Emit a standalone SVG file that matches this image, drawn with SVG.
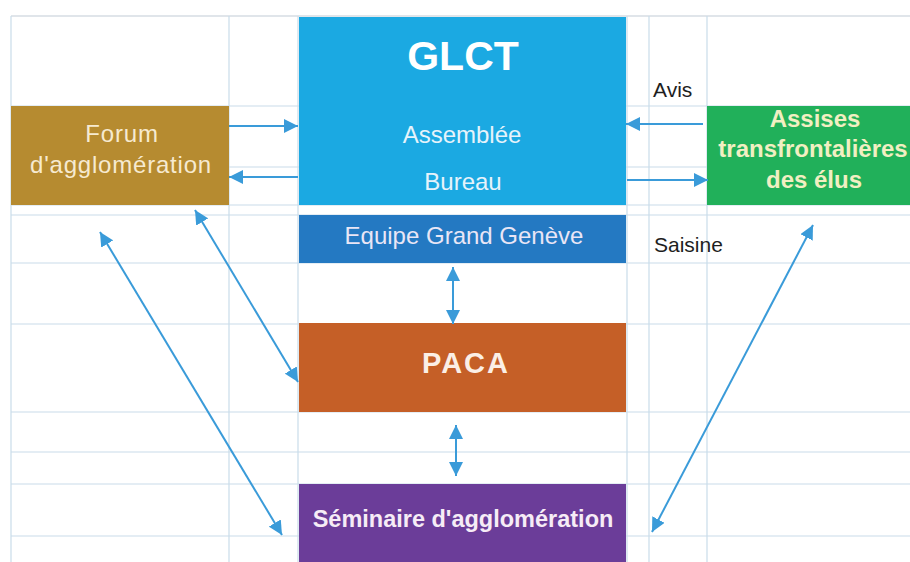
<svg xmlns="http://www.w3.org/2000/svg" width="910" height="562" viewBox="0 0 910 562">
<style>
.grid line{stroke:#c9dcea;stroke-width:1.2}
.lbl{font-family:"Liberation Sans",Arial,sans-serif;text-anchor:middle}
.b{font-weight:bold}
.conn line{stroke:#3a9bd9;stroke-width:2}
.side{font-family:"Liberation Sans",Arial,sans-serif;fill:#1e1e1e;font-size:21px}
</style>
<defs>
<marker id="ah" viewBox="0 0 14 14" refX="14" refY="7" markerWidth="14" markerHeight="14" markerUnits="userSpaceOnUse" orient="auto-start-reverse">
<path d="M0,0 L14,7 L0,14 z" fill="#3a9bd9"/>
</marker>
</defs>
<rect x="0" y="0" width="910" height="562" fill="#ffffff"/>
<g class="grid">
<line x1="11" y1="16" x2="910" y2="16" style="stroke:#d6dde3;stroke-width:1.5"/>
<line x1="11" y1="106" x2="910" y2="106"/>
<line x1="11" y1="167" x2="910" y2="167"/>
<line x1="11" y1="205" x2="910" y2="205"/>
<line x1="11" y1="215" x2="910" y2="215"/>
<line x1="11" y1="263" x2="910" y2="263"/>
<line x1="11" y1="324" x2="910" y2="324"/>
<line x1="11" y1="412" x2="910" y2="412"/>
<line x1="11" y1="452" x2="910" y2="452"/>
<line x1="11" y1="484" x2="910" y2="484"/>
<line x1="11" y1="536" x2="910" y2="536"/>
<line x1="11" y1="16" x2="11" y2="562"/>
<line x1="229" y1="16" x2="229" y2="562"/>
<line x1="298" y1="16" x2="298" y2="562"/>
<line x1="627" y1="16" x2="627" y2="562"/>
<line x1="649" y1="16" x2="649" y2="562"/>
<line x1="707" y1="16" x2="707" y2="562"/>
</g>
<g id="glct">
<rect x="299" y="17" width="327" height="188" fill="#1ba9e2"/>
<text class="lbl b" x="463" y="70" font-size="41" fill="#ffffff">GLCT</text>
<text class="lbl" x="462" y="143" font-size="24" fill="#e6f3fb">Assemblée</text>
<text class="lbl" x="463" y="190" font-size="24" fill="#e6f3fb">Bureau</text>
</g>
<g id="equipe">
<rect x="299" y="215" width="327" height="48" fill="#2479c2"/>
<text class="lbl" x="464" y="244" font-size="24" fill="#e9e6f6">Equipe Grand Genève</text>
</g>
<g id="paca">
<rect x="299" y="323" width="327" height="89" fill="#c55f27"/>
<text class="lbl b" x="466" y="373" font-size="29" letter-spacing="2" fill="#fbefe6">PACA</text>
</g>
<g id="seminaire">
<rect x="299" y="484" width="327" height="78" fill="#6b3d99"/>
<text class="lbl b" x="463" y="527" font-size="23.5" fill="#f6ecf6">Séminaire d'agglomération</text>
</g>
<g id="forum">
<rect x="11" y="106" width="218" height="99" fill="#b68b30"/>
<text class="lbl" x="122" y="142" font-size="24" letter-spacing="0.8" fill="#f6ead0">Forum</text>
<text class="lbl" x="121" y="173" font-size="24" letter-spacing="0.8" fill="#f6ead0">d'agglomération</text>
</g>
<g id="assises">
<rect x="707" y="106" width="203" height="99" fill="#21b05a"/>
<text class="lbl b" x="815" y="127" font-size="24" fill="#f1efc2">Assises</text>
<text class="lbl b" x="813" y="157" font-size="24" fill="#f1efc2">transfrontalières</text>
<text class="lbl b" x="814" y="188" font-size="24" fill="#f1efc2">des élus</text>
</g>
<g id="labels">
<text class="side" x="653" y="97">Avis</text>
<text class="side" x="654" y="252">Saisine</text>
</g>
<g class="conn">
<line x1="229" y1="126" x2="298" y2="126" marker-end="url(#ah)"/>
<line x1="298" y1="177" x2="229" y2="177" marker-end="url(#ah)"/>
<line x1="703" y1="124" x2="626" y2="124" marker-end="url(#ah)"/>
<line x1="627" y1="180" x2="708" y2="180" marker-end="url(#ah)"/>
<line x1="453" y1="267" x2="453" y2="324" marker-start="url(#ah)" marker-end="url(#ah)"/>
<line x1="456" y1="425" x2="456" y2="476" marker-start="url(#ah)" marker-end="url(#ah)"/>
<line x1="195" y1="210" x2="298" y2="382" marker-start="url(#ah)" marker-end="url(#ah)"/>
<line x1="100" y1="232" x2="282" y2="535" marker-start="url(#ah)" marker-end="url(#ah)"/>
<line x1="813" y1="225" x2="652" y2="532" marker-start="url(#ah)" marker-end="url(#ah)"/>
</g>
</svg>
